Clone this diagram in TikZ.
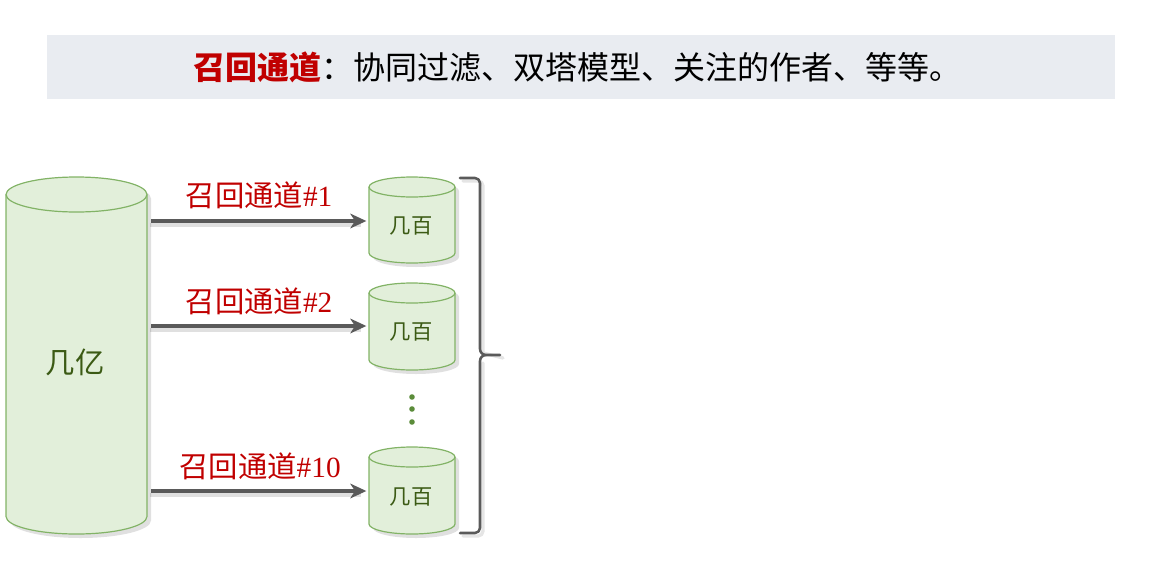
\documentclass[tikz,border=0pt]{standalone}
\usepackage{fontspec}
\setmainfont{Liberation Serif}
\newfontfamily\cjk{Noto Sans CJK SC}
\usetikzlibrary{arrows.meta}
\definecolor{bandgray}{HTML}{E9ECF1}
\definecolor{chred}{HTML}{C00000}
\definecolor{cylfill}{HTML}{E2EFDA}
\definecolor{cylline}{HTML}{82B366}
\definecolor{cyltext}{HTML}{3B5A14}
\definecolor{arrgray}{HTML}{5A5A5A}
\definecolor{dotgreen}{HTML}{5B8C3A}
\tikzset{
  cylbody/.style={fill=cylfill,draw=cylline,line width=0.9pt},
  cylshadow/.style={fill=black,opacity=0.12},
  cyllabel/.style={text=cyltext,inner sep=0pt},
  chanlabel/.style={text=chred,inner sep=0pt},
  flow/.style={draw=arrgray,line width=2.4pt,-{Stealth[length=12pt,width=11pt,inset=3.5pt]}},
  flowshadow/.style={draw=black,opacity=0.12,line width=3pt},
  bracestyle/.style={draw=arrgray,line width=1.9pt,line cap=round,line join=round},
  anchorbox/.style={inner sep=0pt,outer sep=0pt,draw=none}
}
\newcommand{\mycyl}[5]{% x0 x1 ytop ybot ry
  \pgfmathsetmacro{\rxx}{(#2-#1)/2}
  \pgfmathsetmacro{\ta}{#3+#5}
  \pgfmathsetmacro{\tb}{#4-#5}
  \path[cylshadow] (#1+4,-\ta-4) -- (#1+4,-\tb-4) arc(180:360:\rxx\space and #5) -- (#2+4,-\ta-4) arc(0:180:\rxx\space and #5) -- cycle;
  \path[cylbody] (#1,-\ta) -- (#1,-\tb) arc(180:360:\rxx\space and #5) -- (#2,-\ta) arc(0:180:\rxx\space and #5) -- cycle;
  \draw[cylline,line width=0.9pt] (#1,-\ta) arc(180:360:\rxx\space and #5);
}
\begin{document}
\begin{tikzpicture}[x=0.75pt,y=0.75pt]
\useasboundingbox (0,0) rectangle (1155,-578);
% title band
\fill[bandgray] (47,-35) rectangle (1115,-99);
\node[inner sep=0pt] (title) at (577,-67) {\fontsize{24}{24}\selectfont\cjk{\color{chred}\bfseries 召回通道}：协同过滤、双塔模型、关注的作者、等等。};
% cylinders
\mycyl{6}{147}{177}{534}{17.5}
\mycyl{369}{455}{177}{263}{10}
\mycyl{369}{455}{283}{370}{10}
\mycyl{369}{455}{447}{534}{10}
% anchor nodes for cylinders
\node[anchorbox,minimum width=141*0.75pt,minimum height=357*0.75pt] (big) at (76.5,-355.5) {};
\node[anchorbox,minimum width=86*0.75pt,minimum height=40*0.75pt] (c1) at (412,-221) {};
\node[anchorbox,minimum width=86*0.75pt,minimum height=40*0.75pt] (c2) at (412,-326) {};
\node[anchorbox,minimum width=86*0.75pt,minimum height=40*0.75pt] (c3) at (412,-491) {};
% cylinder labels
\node[cyllabel] (tbig) at (75,-362) {\fontsize{22}{22}\selectfont\cjk 几亿};
\node[cyllabel] (t1) at (411,-226) {\fontsize{16}{16}\selectfont\cjk 几百};
\node[cyllabel] (t2) at (411,-332) {\fontsize{16}{16}\selectfont\cjk 几百};
\node[cyllabel] (t3) at (411,-497) {\fontsize{16}{16}\selectfont\cjk 几百};
% arrows
\foreach \c in {c1,c2,c3}{
  \draw[flowshadow] ([xshift=2pt,yshift=-3pt]big.east|-\c.west) -- ([xshift=-6pt,yshift=-3pt]\c.west);
  \draw[flow] ([xshift=3pt]big.east|-\c.west) -- ([xshift=-2pt]\c.west);
}
% channel labels
\node[chanlabel] (l1) at (259,-195) {\fontsize{22}{22}\selectfont{\cjk 召回通道}\#1};
\node[chanlabel] (l2) at (259,-301) {\fontsize{22}{22}\selectfont{\cjk 召回通道}\#2};
\node[chanlabel] (l3) at (260,-466) {\fontsize{22}{22}\selectfont{\cjk 召回通道}\#10};
% dots
\foreach \yy in {397,409,422}{\fill[dotgreen] (412,-\yy) circle (2.8);}
% brace
\draw[bracestyle,draw=black,opacity=0.1,line width=2.5pt] (463,-181) -- (478,-181) to[out=0,in=90] (483,-186) -- (483,-353) -- (503,-358) (483,-363) -- (483,-531) to[out=-90,in=0] (478,-536) -- (463,-536);
\draw[bracestyle] (460,-178) -- (475,-178) to[out=0,in=90] (480,-183) -- (480,-349) to[out=-90,in=180] (486,-355) -- (500,-355);
\draw[bracestyle] (486,-355) to[out=180,in=90] (480,-361) -- (480,-528) to[out=-90,in=0] (475,-533) -- (460,-533);
\end{tikzpicture}
\end{document}
